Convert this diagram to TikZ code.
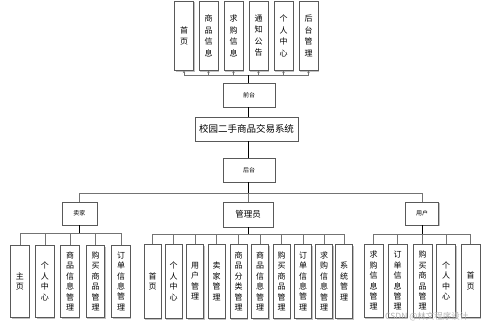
\documentclass[tikz,border=0pt]{standalone}
\usepackage{fontspec}
\setmainfont{Noto Sans CJK SC}
\usetikzlibrary{shadows,arrows.meta}
\begin{document}
\begin{tikzpicture}[x=1pt,y=-1pt,
  box/.style={draw=black!65, line width=0.6pt, fill=white, inner sep=0pt,
    drop shadow={shadow xshift=1.2pt, shadow yshift=-1.2pt, fill=black!35, opacity=0.7}},
  leaf/.style={box, anchor=north, minimum height=72pt, align=center,
    font=\fontsize{8}{10.4}\selectfont},
  topleaf/.style={leaf, minimum width=19pt, minimum height=69pt, font=\fontsize{8}{11.5}\selectfont},
  mid/.style={box, minimum width=52pt, minimum height=24pt, font=\fontsize{6}{6.5}\selectfont},
  con/.style={draw=black!55, line width=0.6pt},
  trunk/.style={draw=black, line width=0.8pt},
  arr/.style={con, -{Stealth[length=2.5pt,width=2.5pt]}}]
\useasboundingbox (0,0) rectangle (499,324);
% top row
\node[topleaf] (t1) at (184,1) {首\\页};
\node[topleaf] (t2) at (208.5,1) {商\\品\\信\\息};
\node[topleaf] (t3) at (233.5,1) {求\\购\\信\\息};
\node[topleaf] (t4) at (258.5,1) {通\\知\\公\\告};
\node[topleaf] (t5) at (283.5,1) {个\\人\\中\\心};
\node[topleaf] (t6) at (308.5,1) {后\\台\\管\\理};
% middle
\node[mid] (qt) at (249,95) {前台};
\node[box, minimum width=103pt, minimum height=24pt, font=\fontsize{9.5}{10}\selectfont] (sys) at (246.5,129) {校园二手商品交易系统};
\node[mid] (ht) at (249,170) {后台};
% second level
\node[box, minimum width=35pt, minimum height=23pt, font=\fontsize{6}{6.5}\selectfont] (mj) at (79.5,213.5) {卖家};
\node[box, minimum width=50pt, minimum height=25pt, font=\fontsize{8.5}{9}\selectfont] (gly) at (248,214.5) {管理员};
\node[box, minimum width=33pt, minimum height=23pt, font=\fontsize{6}{6.5}\selectfont] (yh) at (422,213.5) {用户};
% seller leaves
\foreach \n/\x/\t in {s1/20/{主\\页}, s2/45/{个\\人\\中\\心}, s3/70/{商\\品\\信\\息\\管\\理}, s4/95.5/{购\\买\\商\\品\\管\\理}, s5/121/{订\\单\\信\\息\\管\\理}}
  \node[leaf, minimum width=18.5pt] (\n) at (\x,245) {\t};
% admin leaves
\foreach \n/\x/\t in {a1/152.5/{首\\页}, a2/173.5/{个\\人\\中\\心}, a3/195/{用\\户\\管\\理}, a4/216.5/{卖\\家\\管\\理}, a5/238.5/{商\\品\\分\\类\\管\\理}, a6/260/{商\\品\\信\\息\\管\\理}, a7/281.5/{购\\买\\商\\品\\管\\理}, a8/303/{订\\单\\信\\息\\管\\理}, a9/324/{求\\购\\信\\息\\管\\理}, a10/344/{系\\统\\管\\理}}
  \node[leaf, minimum width=17pt, minimum height=74pt] (\n) at (\x,244) {\t};
% user leaves
\foreach \n/\x/\t in {u1/373.5/{求\\购\\信\\息\\管\\理}, u2/397.5/{订\\单\\信\\息\\管\\理}, u3/422.5/{购\\买\\商\\品\\管\\理}, u4/446/{个\\人\\中\\心}, u5/470.5/{首\\页}}
  \node[leaf, minimum width=19pt, minimum height=73pt] (\n) at (\x,244) {\t};
% connectors top
\coordinate (tj) at (248,75);
\draw[con] (t1.south |- tj) -- (t6.south |- tj);
\foreach \n in {t1,t2,t3,t4,t5,t6} \draw[arr] (\n.south |- tj) -- (\n.south);
\draw[trunk] (qt.north -| tj) -- (tj);
\draw[trunk] (qt.south -| tj) -- (sys.north -| tj);
\draw[trunk] (sys.south -| tj) -- (ht.north -| tj);
\coordinate (bj) at (248,193);
\draw[trunk] (ht.south -| bj) -- (bj);
\draw[con] (mj.north |- bj) -- (yh.north |- bj);
\draw[con] (mj.north |- bj) -- (mj.north);
\draw[con] (gly.north |- bj) -- (gly.north);
\draw[con] (yh.north |- bj) -- (yh.north);
% seller branch
\coordinate (sj) at (79.5,233);
\draw[trunk] (mj.south) -- (sj);
\draw[con] (s1.north |- sj) -- (s5.north |- sj);
\foreach \n in {s1,s2,s3,s4,s5} \draw[con] (\n.north |- sj) -- (\n.north);
% admin branch
\coordinate (aj) at (248,234);
\draw[trunk] (gly.south) -- (aj);
\draw[con] (a1.north |- aj) -- (a10.north |- aj);
\foreach \n in {a1,a2,a3,a4,a5,a6,a7,a8,a9,a10} \draw[con] (\n.north |- aj) -- (\n.north);
% user branch
\coordinate (uj) at (422,234);
\draw[trunk] (yh.south) -- (uj);
\draw[con] (u1.north |- uj) -- (u5.north |- uj);
\foreach \n in {u1,u2,u3,u4,u5} \draw[con] (\n.north |- uj) -- (\n.north);
% watermark
\node[text=black!30, font=\fontsize{8.5}{9}\selectfont, anchor=west, inner sep=0pt] (wm) at (385,316.5) {CSDN @林文程序设计};
\end{tikzpicture}
\end{document}
